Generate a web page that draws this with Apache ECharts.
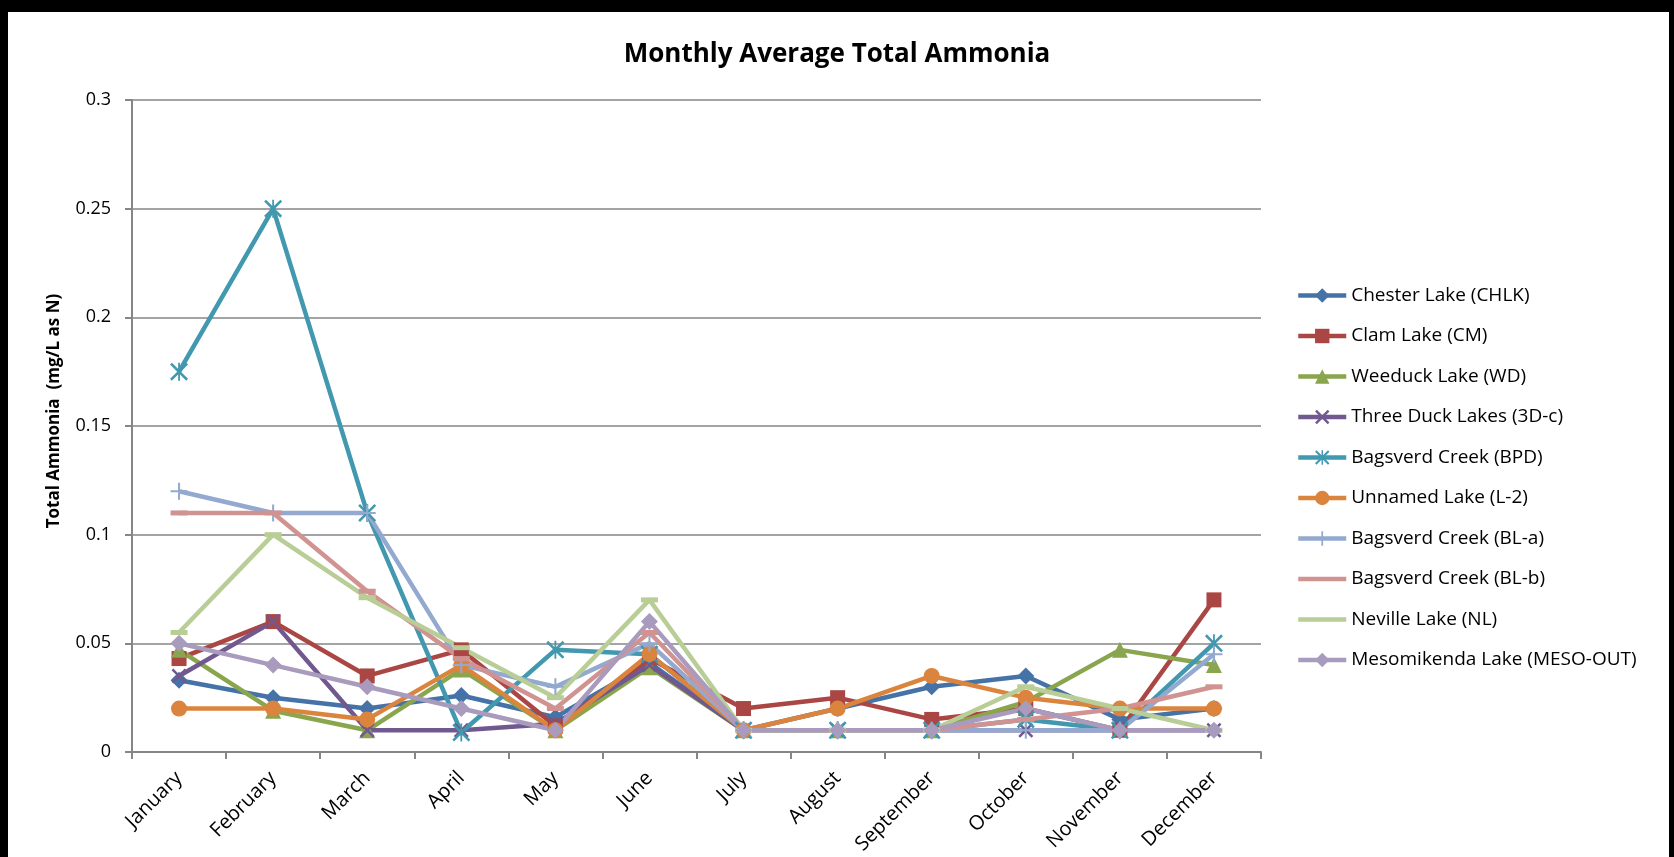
<!DOCTYPE html>
<html>
<head>
<meta charset="utf-8">
<script src="https://cdn.jsdelivr.net/npm/echarts@6/dist/echarts.min.js"></script>
<style>
html, body { margin: 0; padding: 0; background: #ffffff; }
#chart { width: 1674px; height: 857px; }
</style>
</head>
<body>
<div id="chart"></div>
<script>
// ---- Data ----
const months = ['January', 'February', 'March', 'April', 'May', 'June', 'July', 'August', 'September', 'October', 'November', 'December'];
const seriesNames = ['Chester Lake (CHLK)', 'Clam Lake (CM)', 'Weeduck Lake (WD)', 'Three Duck Lakes (3D-c)', 'Bagsverd Creek (BPD)', 'Unnamed Lake (L-2)', 'Bagsverd Creek (BL-a)', 'Bagsverd Creek (BL-b)', 'Neville Lake (NL)', 'Mesomikenda Lake (MESO-OUT)'];
const chlk = [0.033, 0.025, 0.02, 0.026, 0.016, 0.041, 0.01, 0.02, 0.03, 0.035, 0.015, 0.02];
const cm   = [0.043, 0.06, 0.035, 0.047, 0.012, 0.043, 0.02, 0.025, 0.015, 0.02, 0.01, 0.07];
const wd   = [0.047, 0.019, 0.01, 0.038, 0.01, 0.039, 0.01, 0.01, 0.01, 0.023, 0.047, 0.04];
const d3c  = [0.035, 0.06, 0.01, 0.01, 0.013, 0.04, 0.01, 0.01, 0.01, 0.01, 0.01, 0.01];
const bpd  = [0.175, 0.25, 0.11, 0.009, 0.047, 0.045, 0.01, 0.01, 0.01, 0.015, 0.01, 0.05];
const l2   = [0.02, 0.02, 0.015, 0.04, 0.01, 0.045, 0.01, 0.02, 0.035, 0.025, 0.02, 0.02];
const bla  = [0.12, 0.11, 0.11, 0.04, 0.03, 0.05, 0.01, 0.01, 0.01, 0.01, 0.01, 0.045];
const blb  = [0.11, 0.11, 0.074, 0.043, 0.02, 0.055, 0.01, 0.01, 0.01, 0.015, 0.02, 0.03];
const nl   = [0.055, 0.1, 0.071, 0.048, 0.025, 0.07, 0.01, 0.01, 0.01, 0.03, 0.02, 0.01];
const meso = [0.05, 0.04, 0.03, 0.02, 0.01, 0.06, 0.01, 0.01, 0.01, 0.02, 0.01, 0.01];
const seriesValues = [chlk, cm, wd, d3c, bpd, l2, bla, blb, nl, meso];
const yTicks = { min: 0, max: 0.3, interval: 0.05 };

// ---- Styles ----
const FONT = '"Open Sans", "Noto Sans", sans-serif';
const colors = ['#4572A7', '#AA4643', '#89A54E', '#71588F', '#4198AF', '#DB843D', '#93A9CF', '#D19392', '#B9CD96', '#A99BBD'];
const X_PATH = 'path://M0,0.12 L0.12,0 L0.5,0.38 L0.88,0 L1,0.12 L0.62,0.5 L1,0.88 L0.88,1 L0.5,0.62 L0.12,1 L0,0.88 L0.38,0.5 Z';
const STAR_PATH = 'path://M0,0.1 L0.1,0 L0.5,0.4 L0.9,0 L1,0.1 L0.6,0.5 L1,0.9 L0.9,1 L0.5,0.6 L0.1,1 L0,0.9 L0.4,0.5 Z M0.45,0 L0.55,0 L0.55,1 L0.45,1 Z';
const PLUS_PATH = 'path://M0.44,0 L0.56,0 L0.56,0.44 L1,0.44 L1,0.56 L0.56,0.56 L0.56,1 L0.44,1 L0.44,0.56 L0,0.56 L0,0.44 L0.44,0.44 Z';
const DASH_PATH = 'path://M0,0 L1,0 L1,1 L0,1 Z';
const symbols = ['diamond', 'rect', 'triangle', X_PATH, STAR_PATH, 'circle', PLUS_PATH, DASH_PATH, DASH_PATH, 'diamond'];
const symbolSizes = [17, 15, 16, 15, 18, 16, 17, [17, 5], [17, 5], 17];

const series = seriesNames.map((name, i) => ({
  name: name,
  type: 'line',
  data: seriesValues[i],
  symbol: symbols[i],
  symbolSize: symbolSizes[i],
  showSymbol: true,
  showAllSymbol: true,
  lineStyle: { color: colors[i], width: 4.5 },
  itemStyle: { color: colors[i] },
  emphasis: { disabled: true }
}));

// Dash markers blend into the line in the legend, so hide their square icon there
const legendData = seriesNames.map((name, i) => (
  symbols[i] === DASH_PATH ? { name: name, itemStyle: { opacity: 0 } } : { name: name }
));

const chart = echarts.init(document.getElementById('chart'), null, { renderer: 'canvas' });
chart.setOption({
  animation: false,
  backgroundColor: '#ffffff',
  color: colors,
  title: {
    text: 'Monthly Average Total Ammonia',
    left: 'center',
    top: 37,
    textStyle: { fontFamily: FONT, fontSize: 26, fontWeight: 'bold', color: '#000000' }
  },
  grid: { left: 132, top: 100, right: 413, bottom: 103, containLabel: false },
  legend: {
    orient: 'vertical',
    left: 1291,
    top: 281,
    itemWidth: 48,
    itemHeight: 18,
    itemGap: 21.5,
    data: legendData,
    lineStyle: { width: 4.5 },
    textStyle: { fontFamily: FONT, fontSize: 19, color: '#000000' }
  },
  xAxis: {
    type: 'category',
    data: months,
    boundaryGap: true,
    axisLine: { lineStyle: { color: '#868686', width: 2 } },
    axisTick: { show: true, alignWithLabel: false, length: 7, lineStyle: { color: '#868686', width: 2 } },
    axisLabel: { rotate: 45, interval: 0, margin: 23, fontFamily: FONT, fontSize: 20, color: '#000000' },
    splitLine: { show: false }
  },
  yAxis: {
    type: 'value',
    min: yTicks.min,
    max: yTicks.max,
    interval: yTicks.interval,
    name: 'Total Ammonia  (mg/L as N)',
    nameLocation: 'middle',
    nameGap: 69,
    nameTextStyle: { fontFamily: FONT, fontSize: 17, fontWeight: 'bold', color: '#000000', padding: [0, 0, 0, 30] },
    axisLine: { show: true, lineStyle: { color: '#868686', width: 2 } },
    axisTick: { show: true, length: 7, lineStyle: { color: '#868686', width: 2 } },
    axisLabel: { margin: 21, fontFamily: FONT, fontSize: 18, color: '#000000' },
    splitLine: { show: true, lineStyle: { color: '#868686', width: 1.6 } }
  },
  graphic: [
    { type: 'rect', left: 0, top: 0, shape: { width: 1674, height: 12 }, style: { fill: '#000000' }, silent: true },
    { type: 'rect', left: 0, top: 0, shape: { width: 8, height: 857 }, style: { fill: '#000000' }, silent: true },
    { type: 'rect', left: 1669, top: 0, shape: { width: 5, height: 857 }, style: { fill: '#000000' }, silent: true }
  ],
  series: series
});
</script>
</body>
</html>
